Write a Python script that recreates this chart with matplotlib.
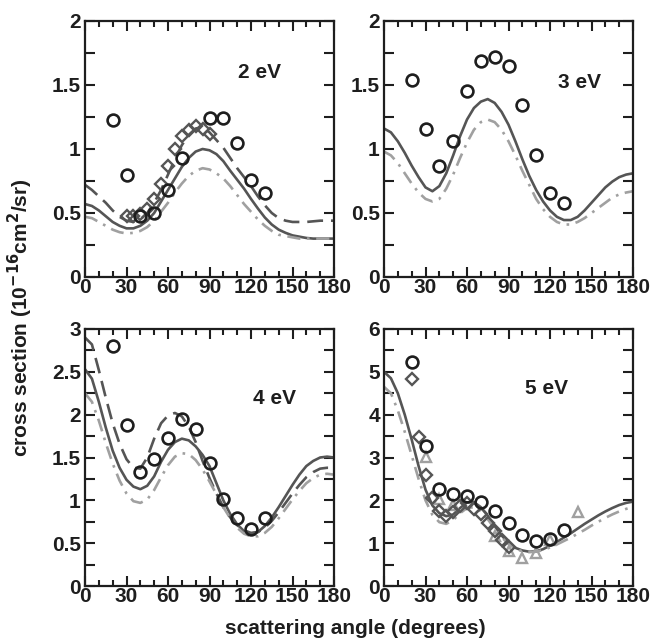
import numpy as np
import matplotlib
matplotlib.use("Agg")
import matplotlib.pyplot as plt
from matplotlib.ticker import MultipleLocator, FuncFormatter

plt.rcParams['font.family'] = ['Liberation Sans', 'DejaVu Sans']
plt.rcParams['font.weight'] = 'bold'
plt.rcParams['mathtext.default'] = 'bf'

# theory curves sampled every 5 degrees
theta = list(range(0, 181, 5))

# ---- 2 eV ----
e2_solid = [0.57, 0.555, 0.52, 0.475, 0.43, 0.40, 0.38, 0.38, 0.40, 0.44, 0.50, 0.59, 0.68, 0.77,
            0.86, 0.93, 0.98, 1.0, 0.99, 0.96, 0.905, 0.83, 0.76, 0.69, 0.61, 0.535, 0.465, 0.41,
            0.37, 0.345, 0.325, 0.315, 0.305, 0.30, 0.30, 0.30, 0.30]
e2_dash = [0.72, 0.68, 0.63, 0.58, 0.52, 0.47, 0.44, 0.43, 0.45, 0.50, 0.58, 0.68, 0.80, 0.92,
           1.03, 1.11, 1.16, 1.17, 1.13, 1.07, 1.01, 0.93, 0.85, 0.78, 0.71, 0.63, 0.56, 0.50,
           0.46, 0.44, 0.43, 0.43, 0.43, 0.435, 0.44, 0.44, 0.44]
e2_dashdot = [0.47, 0.46, 0.43, 0.40, 0.37, 0.35, 0.34, 0.345, 0.36, 0.39, 0.44, 0.51, 0.58, 0.66,
              0.73, 0.79, 0.83, 0.85, 0.84, 0.81, 0.77, 0.71, 0.64, 0.57, 0.51, 0.45, 0.40, 0.36,
              0.33, 0.32, 0.31, 0.30, 0.30, 0.30, 0.30, 0.30, 0.30]
e2_circ_x = [20, 30, 40, 50, 60, 70, 90, 100, 110, 120, 130]
e2_circ_y = [1.23, 0.80, 0.48, 0.50, 0.68, 0.93, 1.24, 1.24, 1.05, 0.76, 0.66]
e2_diam_x = [30, 35, 40, 45, 50, 55, 60, 65, 70, 75, 80, 85, 90]
e2_diam_y = [0.48, 0.48, 0.49, 0.53, 0.61, 0.73, 0.87, 1.0, 1.1, 1.15, 1.18, 1.16, 1.12]

# ---- 3 eV ----
e3_solid = [1.16, 1.13, 1.06, 0.97, 0.87, 0.78, 0.70, 0.67, 0.71, 0.81, 0.95, 1.10, 1.23, 1.32,
            1.37, 1.39, 1.36, 1.29, 1.19, 1.06, 0.92, 0.79, 0.68, 0.59, 0.52, 0.47, 0.445, 0.445,
            0.47, 0.52, 0.58, 0.64, 0.70, 0.745, 0.78, 0.80, 0.81]
e3_dashdot = [0.98, 0.95, 0.89, 0.81, 0.73, 0.66, 0.61, 0.59, 0.61, 0.69, 0.80, 0.93, 1.05, 1.15,
              1.21, 1.23, 1.21, 1.15, 1.06, 0.95, 0.83, 0.72, 0.61, 0.53, 0.47, 0.43, 0.41, 0.41,
              0.43, 0.46, 0.50, 0.54, 0.58, 0.62, 0.645, 0.66, 0.67]
e3_circ_x = [20, 30, 40, 50, 60, 70, 80, 90, 100, 110, 120, 130]
e3_circ_y = [1.54, 1.16, 0.87, 1.06, 1.45, 1.69, 1.72, 1.65, 1.34, 0.95, 0.66, 0.58]

# ---- 4 eV ----
e4_solid = [2.53, 2.42, 2.15, 1.85, 1.58, 1.38, 1.24, 1.16, 1.13, 1.17, 1.28, 1.45, 1.59, 1.68,
            1.72, 1.70, 1.63, 1.53, 1.40, 1.20, 1.00, 0.84, 0.72, 0.64, 0.61, 0.63, 0.70, 0.80,
            0.92, 1.05, 1.18, 1.30, 1.40, 1.46, 1.50, 1.51, 1.50]
e4_dash = [2.90, 2.82, 2.52, 2.20, 1.90, 1.66, 1.48, 1.38, 1.37, 1.50, 1.72, 1.90, 1.99, 2.02,
           1.98, 1.86, 1.68, 1.46, 1.26, 1.08, 0.92, 0.80, 0.71, 0.65, 0.62, 0.63, 0.68, 0.76,
           0.86, 0.97, 1.08, 1.18, 1.27, 1.33, 1.37, 1.38, 1.38]
e4_dashdot = [2.25, 2.15, 1.93, 1.67, 1.43, 1.23, 1.08, 0.99, 0.97, 1.01, 1.12, 1.27, 1.41, 1.51,
              1.55, 1.54, 1.47, 1.36, 1.22, 1.07, 0.92, 0.79, 0.68, 0.61, 0.58, 0.58, 0.62, 0.69,
              0.79, 0.90, 1.01, 1.11, 1.20, 1.26, 1.30, 1.31, 1.30]
e4_circ_x = [20, 30, 40, 50, 60, 70, 80, 90, 100, 110, 120, 130]
e4_circ_y = [2.80, 1.88, 1.33, 1.48, 1.73, 1.95, 1.83, 1.43, 1.02, 0.79, 0.67, 0.79]

# ---- 5 eV ----
e5_solid = [5.0, 4.85, 4.5, 4.0, 3.42, 2.8, 2.25, 1.88, 1.70, 1.63, 1.67, 1.82, 1.95, 1.96,
            1.84, 1.64, 1.40, 1.18, 1.01, 0.89, 0.83, 0.80, 0.81, 0.86, 0.94, 1.03, 1.13, 1.23,
            1.34, 1.45, 1.55, 1.65, 1.74, 1.82, 1.89, 1.94, 1.97]
e5_dashdot = [4.65, 4.5, 4.1, 3.6, 3.05, 2.5, 2.0, 1.66, 1.49, 1.45, 1.54, 1.70, 1.82, 1.84,
              1.75, 1.56, 1.34, 1.14, 0.98, 0.87, 0.81, 0.79, 0.80, 0.84, 0.90, 0.97, 1.05, 1.13,
              1.22, 1.31, 1.41, 1.50, 1.59, 1.67, 1.74, 1.80, 1.85]
e5_circ_x = [20, 30, 40, 50, 60, 70, 80, 90, 100, 110, 120, 130]
e5_circ_y = [5.23, 3.26, 2.27, 2.14, 2.09, 1.95, 1.76, 1.47, 1.19, 1.06, 1.09, 1.31]
e5_diam_x = [20, 25, 30, 35, 40, 45, 50, 55, 60, 65, 70, 75, 80, 85, 90]
e5_diam_y = [4.84, 3.48, 2.59, 2.06, 1.76, 1.64, 1.72, 1.87, 1.93, 1.80, 1.68, 1.48, 1.28, 1.08, 0.90]
e5_tri_x = [30, 40, 50, 80, 90, 100, 110, 120, 140]
e5_tri_y = [3.02, 2.03, 1.89, 1.16, 0.82, 0.66, 0.77, 1.07, 1.72]

INK = '#1e1e1e'
MID = '#555555'
LIGHT = '#a0a0a0'
FS = 15

fig = plt.figure(figsize=(6.53, 6.40), dpi=100)
W, H = 653.0, 640.0


def make_ax(x0, x1, ytop, ybot):
    return fig.add_axes([x0 / W, 1 - ybot / H, (x1 - x0) / W, (ybot - ytop) / H])


ax_tl = make_ax(85, 334, 21, 277)
ax_tr = make_ax(384, 633, 21, 277)
ax_bl = make_ax(85, 334, 329, 586)
ax_br = make_ax(384, 633, 329, 586)

fmt = FuncFormatter(lambda v, p: '%g' % v)


def style(ax, ymax, ymajor, yminor):
    ax.set_xlim(0, 180)
    ax.set_ylim(0, ymax)
    ax.xaxis.set_major_locator(MultipleLocator(30))
    ax.xaxis.set_minor_locator(MultipleLocator(10))
    ax.yaxis.set_major_locator(MultipleLocator(ymajor))
    ax.yaxis.set_minor_locator(MultipleLocator(yminor))
    ax.yaxis.set_major_formatter(fmt)
    ax.tick_params(which='both', direction='in', top=True, right=True, width=1.5,
                   labelsize=FS, colors=INK)
    ax.tick_params(axis='x', which='major', length=7, pad=1)
    ax.tick_params(axis='x', which='minor', length=4)
    ax.tick_params(axis='y', which='both', length=7, pad=3)
    for sp in ax.spines.values():
        sp.set_linewidth(1.6)
        sp.set_color(INK)
    for lab in ax.get_xticklabels() + ax.get_yticklabels():
        lab.set_fontweight('bold')
    # nudge the y "0" up a little so it clears the x "0"
    ax.get_yticklabels()[0].set_va('bottom')


def circles(ax, x, y):
    ax.plot(x, y, 'o', ms=8.5, mfc='none', mec=INK, mew=1.9, zorder=5)


def diamonds(ax, x, y):
    ax.plot(x, y, 'D', ms=6.5, mfc='none', mec=MID, mew=1.7, zorder=4)


dash_style = (0, (6, 3))
dashdot_style = (0, (5, 2.5, 1, 2.5))

# 2 eV
ax = ax_tl
ax.plot(theta, e2_solid, '-', color=MID, lw=1.9)
ax.plot(theta, e2_dash, linestyle=dash_style, color=MID, lw=1.9)
ax.plot(theta, e2_dashdot, linestyle=dashdot_style, color=LIGHT, lw=1.9)
diamonds(ax, e2_diam_x, e2_diam_y)
circles(ax, e2_circ_x, e2_circ_y)
ax.text(126, 1.6, '2 eV', ha='center', va='center', fontsize=FS, fontweight='bold', color=INK)
style(ax, 2, 0.5, 0.25)

# 3 eV
ax = ax_tr
ax.plot(theta, e3_solid, '-', color=MID, lw=1.9)
ax.plot(theta, e3_dashdot, linestyle=dashdot_style, color=LIGHT, lw=1.9)
circles(ax, e3_circ_x, e3_circ_y)
ax.text(141, 1.52, '3 eV', ha='center', va='center', fontsize=FS, fontweight='bold', color=INK)
style(ax, 2, 0.5, 0.25)

# 4 eV
ax = ax_bl
ax.plot(theta, e4_solid, '-', color=MID, lw=1.9)
ax.plot(theta, e4_dash, linestyle=dash_style, color=MID, lw=1.9)
ax.plot(theta, e4_dashdot, linestyle=dashdot_style, color=LIGHT, lw=1.9)
circles(ax, e4_circ_x, e4_circ_y)
ax.text(137, 2.19, '4 eV', ha='center', va='center', fontsize=FS, fontweight='bold', color=INK)
style(ax, 3, 0.5, 0.25)

# 5 eV
ax = ax_br
ax.plot(theta, e5_solid, '-', color=MID, lw=1.9)
ax.plot(theta, e5_dashdot, linestyle=dashdot_style, color=LIGHT, lw=1.9)
ax.plot(e5_tri_x, e5_tri_y, '^', ms=7.5, mfc='none', mec=LIGHT, mew=1.7, zorder=3)
diamonds(ax, e5_diam_x, e5_diam_y)
circles(ax, e5_circ_x, e5_circ_y)
ax.text(117.5, 4.61, '5 eV', ha='center', va='center', fontsize=FS, fontweight='bold', color=INK)
style(ax, 6, 1, 0.5)

fig.text(20 / W, 1 - 318 / H, r'cross section (10$^{-16}$cm$^{2}$/sr)', rotation=90,
         ha='center', va='center', fontsize=FS, fontweight='bold', color=INK)
fig.text(355 / W, 1 - 629 / H, 'scattering angle (degrees)', ha='center', va='center',
         fontsize=FS, fontweight='bold', color=INK)

fig.savefig('out.png', dpi=100)
